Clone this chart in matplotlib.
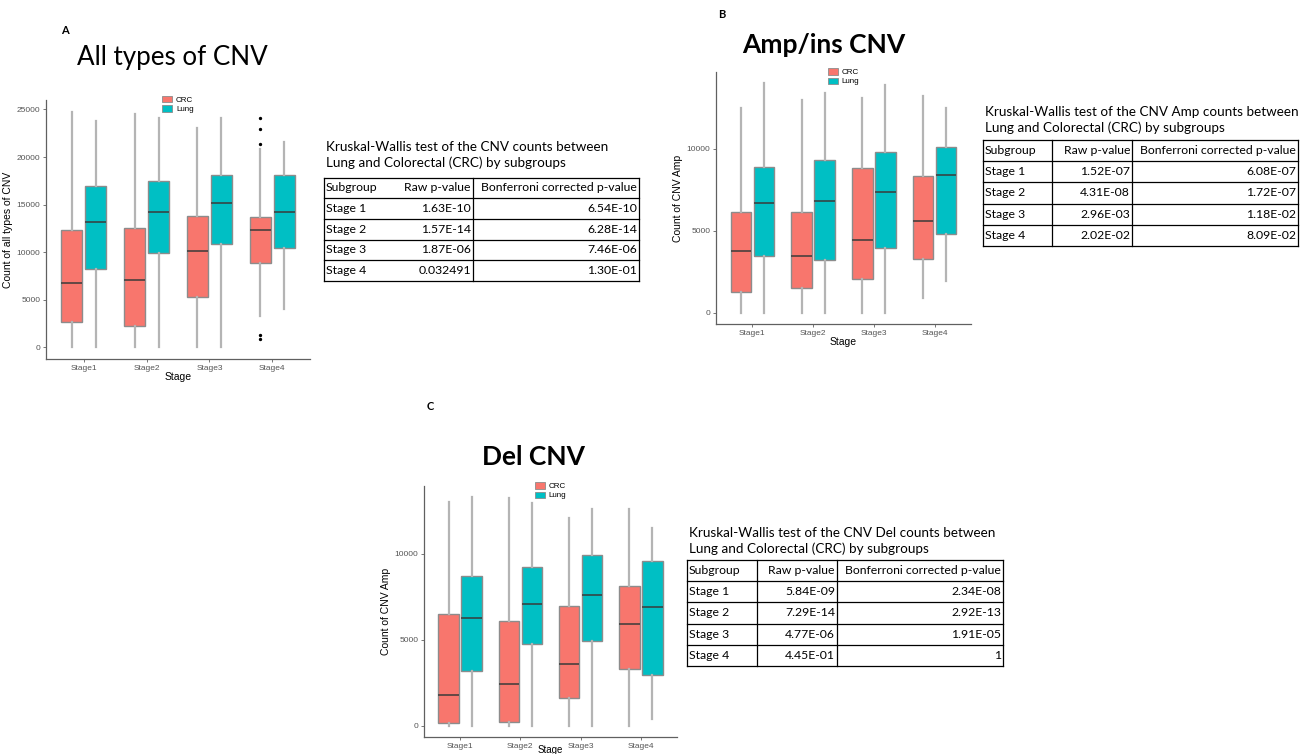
import numpy as np
import matplotlib.pyplot as plt
from matplotlib.patches import Patch

W, H = 1311, 754

stages = ['Stage1', 'Stage2', 'Stage3', 'Stage4']
groups = ['CRC', 'Lung']
colors = {'CRC': '#F8766D', 'Lung': '#00BFC4'}

# (lower whisker, Q1, median, Q3, upper whisker) for each stage
all_crc = [(0, 2660, 6710, 12280, 24760), (0, 2270, 7100, 12520, 24480),
           (0, 5280, 10070, 13810, 23010), (3250, 8850, 12280, 13740, 20810)]
all_lung = [(0, 8220, 13220, 16960, 23820), (0, 9860, 14200, 17450, 24060),
            (0, 10880, 15140, 18150, 24060), (4020, 10420, 14270, 18120, 21610)]
all_crc_out = [[], [], [], [24060, 22900, 21330, 1330, 840]]

amp_crc = [(0, 1260, 3750, 6150, 12510), (0, 1510, 3460, 6130, 12980),
           (0, 2020, 4460, 8800, 13120), (900, 3280, 5620, 8330, 13220)]
amp_lung = [(0, 3440, 6720, 8900, 13990), (0, 3220, 6840, 9290, 13400),
            (0, 3950, 7390, 9800, 13870), (1920, 4810, 8370, 10120, 12510)]

del_crc = [(0, 160, 1800, 6510, 12970), (0, 210, 2420, 6090, 13200),
           (0, 1590, 3590, 6940, 12040), (0, 3260, 5930, 8100, 12580)]
del_lung = [(0, 3200, 6240, 8720, 13260), (0, 4770, 7090, 9230, 12910),
            (0, 4900, 7600, 9920, 12560), (410, 2950, 6920, 9570, 11510)]

no_out = [[], [], [], []]

# Kruskal-Wallis tables
tab_header = ['Subgroup', 'Raw p-value', 'Bonferroni corrected p-value']
tab_rows = ['Stage 1', 'Stage 2', 'Stage 3', 'Stage 4']
a_raw = ['1.63E-10', '1.57E-14', '1.87E-06', '0.032491']
a_bonf = ['6.54E-10', '6.28E-14', '7.46E-06', '1.30E-01']
b_raw = ['1.52E-07', '4.31E-08', '2.96E-03', '2.02E-02']
b_bonf = ['6.08E-07', '1.72E-07', '1.18E-02', '8.09E-02']
c_raw = ['5.84E-09', '7.29E-14', '4.77E-06', '4.45E-01']
c_bonf = ['2.34E-08', '2.92E-13', '1.91E-05', '1']

plt.rcParams['font.family'] = ['Liberation Sans', 'DejaVu Sans']
fig = plt.figure(figsize=(W / 100, H / 100), dpi=100)

# overlay axes in pixel units for titles and tables
ov = fig.add_axes([0, 0, 1, 1])
ov.set_xlim(0, W)
ov.set_ylim(H, 0)
ov.axis('off')


def px_axes(l, t, r, b):
    return fig.add_axes([l / W, 1 - b / H, (r - l) / W, (b - t) / H])


def box_panel(box, crc, lung, crc_out, lung_out, ylabel, yticks, xlabelpad=0, xlabelsize=7.5):
    ax = px_axes(*box)
    pos = np.arange(1, len(stages) + 1)
    vals = []
    for g, data, outs, off in [('CRC', crc, crc_out, -0.19), ('Lung', lung, lung_out, 0.19)]:
        stats = [dict(whislo=d[0], q1=d[1], med=d[2], q3=d[3], whishi=d[4], fliers=o)
                 for d, o in zip(data, outs)]
        for d, o in zip(data, outs):
            vals += list(d) + list(o)
        ax.bxp(stats, positions=pos + off, widths=0.34, patch_artist=True,
               showcaps=False, manage_ticks=False,
               boxprops=dict(facecolor=colors[g], edgecolor='#8c8c8c', linewidth=1),
               whiskerprops=dict(color='#b4b4b4', linewidth=1.6),
               medianprops=dict(color='#3a3a3a', linewidth=1.1),
               flierprops=dict(marker='o', markersize=1.4, markerfacecolor='black',
                               markeredgecolor='black'))
    lo, hi = min(vals), max(vals)
    pad = 0.05 * (hi - lo)
    ax.set_ylim(lo - pad, hi + pad)
    ax.set_xlim(0.4, 4.6)
    ax.set_xticks(pos, stages)
    ax.set_yticks(yticks)
    for s in ['top', 'right']:
        ax.spines[s].set_visible(False)
    for s in ['left', 'bottom']:
        ax.spines[s].set_color('#606060')
        ax.spines[s].set_linewidth(0.9)
    ax.tick_params(length=2, width=0.6, color='#606060', labelsize=6,
                   labelcolor='#555555', pad=2)
    ax.set_xlabel('Stage', fontsize=xlabelsize, labelpad=xlabelpad)
    ax.set_ylabel(ylabel, fontsize=7.5, labelpad=3)
    handles = [Patch(facecolor=colors[g], edgecolor='#8c8c8c', linewidth=0.6) for g in groups]
    ax.legend(handles, groups, loc='upper center', bbox_to_anchor=(0.5, 1.03),
              frameon=False, fontsize=5.8, handlelength=1.2, handleheight=0.8,
              labelspacing=0.15, handletextpad=0.5, borderpad=0)
    return ax


box_panel((46, 100, 310, 359), all_crc, all_lung, all_crc_out, no_out,
          'Count of all types of CNV', [0, 5000, 10000, 15000, 20000, 25000])
box_panel((716, 72, 971, 324), amp_crc, amp_lung, no_out, no_out,
          'Count of CNV Amp', [0, 5000, 10000])
box_panel((424, 486, 677, 737), del_crc, del_lung, no_out, no_out,
          'Count of CNV Amp', [0, 5000, 10000], xlabelpad=-3.5, xlabelsize=7)

# panel letters and titles
tfont = ['Lato', 'DejaVu Sans']
ov.text(65, 30, 'A', fontsize=8, fontweight='bold', family=tfont, ha='center', va='center')
ov.text(722, 15, 'B', fontsize=8, fontweight='bold', family=tfont, ha='center', va='center')
ov.text(430, 407, 'C', fontsize=8, fontweight='bold', family=tfont, ha='center', va='center')
ov.text(172, 58, 'All types of CNV', fontsize=18.7, family=tfont, ha='center', va='center')
ov.text(824, 45, 'Amp/ins CNV', fontsize=19, fontweight='bold', family=tfont,
        ha='center', va='center')
ov.text(533, 457, 'Del CNV', fontsize=19, fontweight='bold', family=tfont,
        ha='center', va='center')


def draw_table(title, raw, bonf, left, cols, right, top, row_h, title_y, sub_line=True):
    ov.text(left + 2, title_y, title, fontsize=9.75, family=tfont, ha='left', va='center',
            linespacing=1.3)
    n = len(raw) + 1
    bottom = top + n * row_h
    for i in range(n + 1):
        ov.plot([left, right], [top + i * row_h] * 2, color='black', lw=0.9)
    xs = [left] + list(cols) + [right]
    if not sub_line:
        xs = [left, cols[1], right]
    for x in xs:
        ov.plot([x, x], [top, bottom], color='black', lw=0.9)
    rows = [tab_header] + [[s, r, b] for s, r, b in zip(tab_rows, raw, bonf)]
    for i, row in enumerate(rows):
        y = top + (i + 0.5) * row_h
        ov.text(left + 2, y, row[0], fontsize=8.8, family=tfont, ha='left', va='center')
        ov.text(cols[1] - 2, y, row[1], fontsize=8.8, family=tfont, ha='right', va='center')
        ov.text(right - 2, y, row[2], fontsize=8.8, family=tfont, ha='right', va='center')


draw_table('Kruskal-Wallis test of the CNV counts between\nLung and Colorectal (CRC) by subgroups',
           a_raw, a_bonf, 324, (395, 473), 639, 177.5, 20.7, 155, sub_line=False)
draw_table('Kruskal-Wallis test of the CNV Amp counts between\nLung and Colorectal (CRC) by subgroups',
           b_raw, b_bonf, 983, (1052, 1132), 1298, 140, 21.2, 120)
draw_table('Kruskal-Wallis test of the CNV Del counts between\nLung and Colorectal (CRC) by subgroups',
           c_raw, c_bonf, 687, (757, 837), 1003, 560, 21.2, 541)

fig.savefig('out.png', dpi=100)
